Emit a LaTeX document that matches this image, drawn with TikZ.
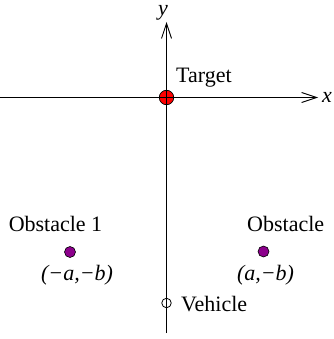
\documentclass[tikz,border=0pt]{standalone}
\usepackage{fontspec}
\setmainfont{Liberation Serif}
\usetikzlibrary{arrows.meta}
\definecolor{obstpurple}{RGB}{140,0,140}
\begin{document}
\begin{tikzpicture}[x=1pt,y=-1pt,
  lbl/.style={font=\fontsize{22}{26}\selectfont, inner sep=0pt},
  ax/.style={line width=1pt, -{Straight Barb[length=15pt,width=10pt,line width=0.9pt]}},
  obst/.style={circle, fill=obstpurple, draw=black, line width=0.6pt, minimum size=11pt, inner sep=0pt},
]
\useasboundingbox (0,0) rectangle (333,339);
\coordinate (xs) at (0,97.5);
\coordinate (xe) at (318,97.5);
\coordinate (ys) at (166.5,333);
\coordinate (ye) at (166.5,22);
\draw[ax] (xs) -- (xe);
\draw[ax] (ys) -- (ye);
\node[lbl, font=\fontsize{22}{26}\selectfont\itshape, anchor=base] (xl) at (327,103) {x};
\node[lbl, font=\fontsize{22}{26}\selectfont\itshape, anchor=base] (yl) at (163,16) {y};
\node[circle, fill=red, draw=black, line width=0.7pt, minimum size=14.5pt, inner sep=0pt] (target) at (166.5,97.5) {};
\draw[line width=0.8pt] (target.north) -- (target.south) (target.west) -- (target.east);
\node[lbl, anchor=base west] (tl) at (176,83) {Target};
\node[obst] (o1) at (70,252) {};
\node[obst] (o2) at (263.5,251.5) {};
\node[lbl, anchor=base] (o1l) at (55.5,231) {Obstacle 1};
\node[lbl, anchor=base west] (o2l) at (247,231) {Obstacle};
\node[lbl, font=\fontsize{22}{26}\selectfont\itshape, anchor=base] (o1c) at (77,280) {(−a,−b)};
\node[lbl, font=\fontsize{22}{26}\selectfont\itshape, anchor=base] (o2c) at (265.5,280) {(a,−b)};
\node[circle, draw=black, line width=0.8pt, minimum size=9.5pt, inner sep=0pt] (veh) at (166.5,303) {};
\node[lbl, anchor=base west] (vl) at (181,311) {Vehicle};
\end{tikzpicture}
\end{document}
